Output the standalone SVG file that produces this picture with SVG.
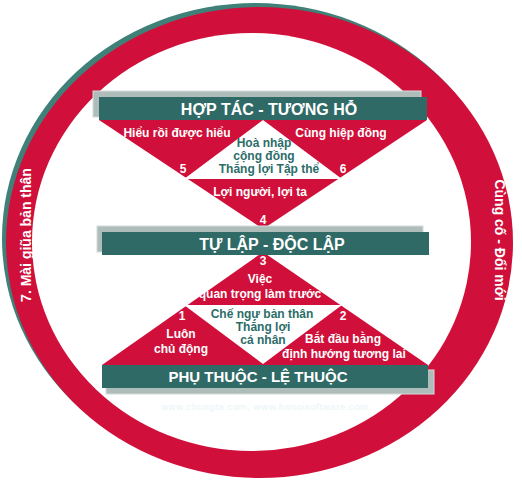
<svg xmlns="http://www.w3.org/2000/svg" width="522" height="481" viewBox="0 0 522 481">
<style>
.b{font-family:"Liberation Sans",Arial,sans-serif;font-weight:bold;fill:#ffffff;text-anchor:middle}
.h{font-size:16px}
.s{font-size:12px}
.t{fill:#2c6d69}
.red{fill:#d0103a}
.teal{fill:#2f6a67}
.shadow{fill:#aebcba;stroke:#d4dcdb;stroke-width:1}
.wm{font-family:"Liberation Sans",Arial,sans-serif;font-size:9.5px;fill:#e8f4f6;text-anchor:middle;letter-spacing:0.6px}
</style>
<rect width="522" height="481" fill="#ffffff"/>
<g id="ring">
  <ellipse cx="255.5" cy="238.5" rx="253.5" ry="235.5" fill="#3f8079"/>
  <ellipse class="red" cx="259.5" cy="242.5" rx="253.5" ry="235.5"/>
  <ellipse cx="251.5" cy="242" rx="219.5" ry="209" fill="#ffffff"/>
  <text class="b" font-size="14" transform="translate(31,235) rotate(-90)">7. Mài giũa bản thân</text>
  <text class="b" font-size="14" transform="translate(495,240) rotate(90)">Cùng cố - Đổi mới</text>
</g>
<g id="triangles-top">
  <polygon class="red" points="99,120 427,120 263,229"/>
  <polygon fill="#ffffff" points="263,120 184,179 342,179"/>
</g>
<g id="triangles-bottom">
  <polygon class="red" points="263,252 102,365 428,365"/>
  <polygon fill="#ffffff" points="184,305 342,305 263,364"/>
</g>
<g id="banner-top">
  <rect class="shadow" x="93" y="91" width="328" height="26"/>
  <rect class="teal" x="99" y="97" width="328" height="23"/>
  <text class="b h" x="269" y="115">HỢP TÁC - TƯƠNG HỖ</text>
</g>
<g id="banner-middle">
  <rect class="shadow" x="97" y="226" width="326" height="26"/>
  <rect class="teal" x="102" y="232" width="327" height="23"/>
  <text class="b h" x="272" y="250">TỰ LẬP - ĐỘC LẬP</text>
</g>
<g id="banner-bottom">
  <rect class="shadow" x="106" y="370" width="328" height="24"/>
  <rect class="teal" x="102" y="365" width="326" height="23"/>
  <text class="b" font-size="15" x="258" y="382">PHỤ THUỘC - LỆ THUỘC</text>
</g>
<g id="node-5">
  <text class="b s" x="177" y="137">Hiểu rồi được hiểu</text>
  <text class="b s" x="183" y="173">5</text>
</g>
<g id="node-6">
  <text class="b s" x="341" y="137">Cùng hiệp đồng</text>
  <text class="b s" x="343" y="173">6</text>
</g>
<g id="node-collective">
  <text class="b s t" x="264" y="147">Hoà nhập</text>
  <text class="b s t" x="264" y="160">cộng đồng</text>
  <text class="b s t" x="269" y="173">Thắng lợi Tập thể</text>
</g>
<g id="node-4">
  <text class="b s" x="260" y="196">Lợi người, lợi ta</text>
  <text class="b s" x="263" y="224">4</text>
</g>
<g id="node-3">
  <text class="b s" x="263" y="265">3</text>
  <text class="b s" x="260" y="283">Việc</text>
  <text class="b s" x="260" y="298">quan trọng làm trước</text>
</g>
<g id="node-personal">
  <text class="b s t" x="262" y="318">Chế ngự bản thân</text>
  <text class="b s t" x="263" y="331">Thắng lợi</text>
  <text class="b s t" x="263" y="344">cá nhân</text>
</g>
<g id="node-1">
  <text class="b s" x="182" y="320">1</text>
  <text class="b s" x="181" y="338">Luôn</text>
  <text class="b s" x="181" y="353">chủ động</text>
</g>
<g id="node-2">
  <text class="b s" x="343" y="320">2</text>
  <text class="b s" x="343" y="343">Bắt đầu bằng</text>
  <text class="b s" x="344" y="358">định hướng tương lai</text>
</g>
<text class="wm" x="265" y="410">www.chungta.com, www.hanoisoftware.com</text>
</svg>
